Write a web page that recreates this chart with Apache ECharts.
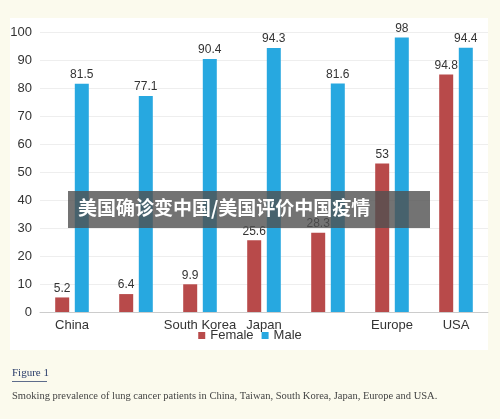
<!DOCTYPE html><html><head><meta charset="utf-8"><script src="https://cdn.jsdelivr.net/npm/echarts@6/dist/echarts.min.js"></script>
<style>body{margin:0;background:#fbfaed}#c{width:500px;height:419px}</style></head><body><div id="c"></div><script>
var categories=['China','','South Korea','Japan','','Europe','USA'];
var female=[5.2,6.4,9.9,25.6,28.3,53,84.8];
var femaleLabels=['5.2','6.4','9.9','25.6','28.3','53','94.8'];
var male=[81.5,77.1,90.4,94.3,81.6,98,94.4];
var yTicks=[0,10,20,30,40,50,60,70,80,90,100];
var ch=echarts.init(document.getElementById('c'));
var lbl={show:true,position:'top',color:'#333',fontSize:12,fontFamily:'Liberation Sans',distance:3};
ch.setOption({
backgroundColor:'#fbfaed',
graphic:[
{type:'rect',z:-1,shape:{x:10,y:18,width:478,height:332},style:{fill:'#fff'}},
{type:'text',left:12,top:368,style:{text:'Figure 1',font:'11px "Liberation Serif"',fill:'#2a3d6a'}},
{type:'rect',shape:{x:12,y:381,width:35,height:0.8},style:{fill:'#2a3d6a'}},
{type:'text',left:12,top:391,style:{text:'Smoking prevalence of lung cancer patients in China, Taiwan, South Korea, Japan, Europe and USA.',font:'10.5px "Liberation Serif"',fill:'#444'}},
{type:'rect',z:100,shape:{x:68,y:191,width:362,height:37},style:{fill:'rgba(80,80,80,0.8)'}},
{type:'text',z:101,left:78,top:198,style:{text:'美国确诊变中国/美国评价中国疫情',font:'bold 19px "Noto Sans CJK SC"',fill:'#fff'}}
],
legend:{data:['Female','Male'],bottom:72,left:'center',itemWidth:7,itemHeight:7,itemGap:8,textStyle:{fontSize:13,color:'#333',fontFamily:'Liberation Sans'},icon:'rect'},
grid:{left:40,right:12,top:32,bottom:107},
xAxis:{type:'category',data:categories,axisTick:{show:false},axisLine:{lineStyle:{color:'#ccc'}},axisLabel:{color:'#333',fontSize:13,fontFamily:'Liberation Sans',interval:0,margin:7}},
yAxis:{type:'value',min:0,max:100,interval:10,axisLabel:{color:'#333',fontSize:13,fontFamily:'Liberation Sans',formatter:function(v){return yTicks.indexOf(v)>=0?v:'';}},splitLine:{lineStyle:{color:'#eee'}}},
series:[
{name:'Female',type:'bar',data:female,barWidth:14,barGap:'40%',itemStyle:{color:'#b84a4a'},label:Object.assign({},lbl,{formatter:function(p){return femaleLabels[p.dataIndex];}})},
{name:'Male',type:'bar',data:male,barWidth:14,itemStyle:{color:'#27a8e0'},label:lbl}
]});
</script></body></html>
